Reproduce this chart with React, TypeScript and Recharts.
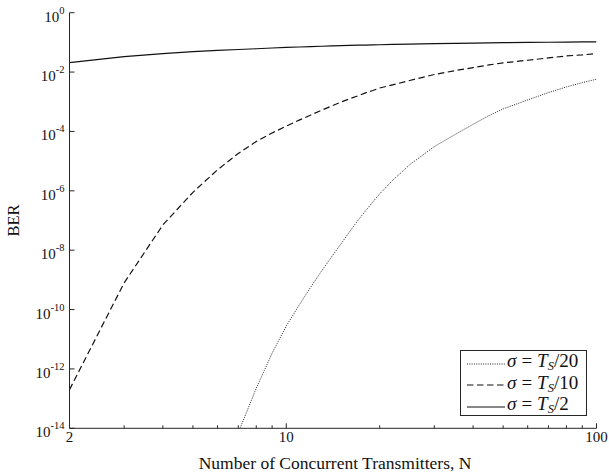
import React from 'react';
import { LineChart, Line, XAxis, YAxis, Legend } from 'recharts';

const transmitters = [2, 3, 4, 5, 6, 7, 8, 9, 10, 11, 12, 13, 14, 15, 16, 17, 18, 19, 20, 22, 25, 30, 35, 40, 45, 50, 60, 70, 80, 90, 100];
const berSigma20 = [null, null, null, null, null, 7.1e-15, 2.24e-13, 3.4e-12, 2.8e-11, 1.41e-10, 5.8e-10, 2.0e-9, 6.0e-9, 1.62e-8, 4.2e-8, 1.0e-7, 2.1e-7, 4.2e-7, 7.9e-7, 2.24e-6, 7.6e-6, 3.1e-5, 7.9e-5, 1.74e-4, 3.4e-4, 5.75e-4, 1.15e-3, 2.04e-3, 3.16e-3, 4.4e-3, 5.75e-3];
const berSigma10 = [2.0e-13, 7.9e-10, 7.1e-8, 8.9e-7, 5.1e-6, 1.82e-5, 4.6e-5, 8.9e-5, 1.51e-4, 2.4e-4, 3.6e-4, 5.2e-4, 7.2e-4, 9.8e-4, 1.26e-3, 1.58e-3, 2.0e-3, 2.4e-3, 2.9e-3, 3.7e-3, 5.2e-3, 8.3e-3, 1.12e-2, 1.41e-2, 1.74e-2, 2.04e-2, 2.5e-2, 3.0e-2, 3.5e-2, 3.8e-2, 4.2e-2];
const berSigma2 = [0.0209, 0.0331, 0.0417, 0.049, 0.0537, 0.0575, 0.061, 0.0646, 0.0676, 0.07, 0.0724, 0.0741, 0.0759, 0.0776, 0.0794, 0.0804, 0.0813, 0.0822, 0.0832, 0.0851, 0.0871, 0.0902, 0.0923, 0.0944, 0.0962, 0.0977, 0.1, 0.1012, 0.1023, 0.1035, 0.1047];

const xTicks = [2, 3, 4, 5, 6, 7, 8, 9, 10, 20, 30, 40, 50, 60, 70, 80, 90, 100];
const xMajorTicks = [2, 10, 100];
const yTicks = [1e-14, 1e-12, 1e-10, 1e-8, 1e-6, 1e-4, 1e-2, 1];

const xLabel = 'Number of Concurrent Transmitters, N';
const yLabel = 'BER';

const series = [
  { key: 's20', divisor: 20, values: berSigma20, dash: '1 1.3', width: 1, color: '#222' },
  { key: 's10', divisor: 10, values: berSigma10, dash: '6.5 3.5', width: 1.2, color: '#111' },
  { key: 's2', divisor: 2, values: berSigma2, dash: undefined, width: 1.2, color: '#111' },
];

const data = transmitters.map((n, i) => {
  const row: any = { n };
  series.forEach((s) => {
    row[s.key] = s.values[i];
  });
  return row;
});

const FONT = '"Liberation Serif", "Times New Roman", serif';
const AXIS = '#262626';

const XTick = (props: any) => {
  const { x, y, payload, side } = props;
  const v = payload.value;
  const major = xMajorTicks.includes(v);
  const len = major ? 5 : 3;
  const dir = side === 'top' ? 1 : -1;
  return (
    <g>
      <line x1={x} x2={x} y1={y} y2={y + dir * len} stroke={AXIS} strokeWidth={1} />
      {side === 'bottom' && major && (
        <text x={x} y={y + 14} textAnchor="middle" fontFamily={FONT} fontSize={15} fill="#111">
          {String(v)}
        </text>
      )}
    </g>
  );
};

const YTick = (props: any) => {
  const { x, y, payload, side } = props;
  const exp = Math.round(Math.log10(payload.value));
  const dir = side === 'left' ? 1 : -1;
  return (
    <g>
      <line x1={x} x2={x + dir * 5} y1={y} y2={y} stroke={AXIS} strokeWidth={1} />
      {side === 'left' && (
        <text x={x - 5} y={y + 9} textAnchor="end" fontFamily={FONT} fontSize={15} fill="#111">
          <tspan>10</tspan>
          <tspan dy={-8} fontSize={10.5}>{String(exp)}</tspan>
        </text>
      )}
    </g>
  );
};

const LegendBox = (props: any) => {
  const payload = [...(props.payload || [])].sort(
    (a: any, b: any) =>
      series.findIndex((q) => q.key === a.dataKey) - series.findIndex((q) => q.key === b.dataKey)
  );
  return (
    <div
      style={{
        border: `1px solid ${AXIS}`,
        background: '#fff',
        boxSizing: 'border-box',
        height: 66,
        width: 127,
        paddingTop: 2,
        paddingLeft: 5.5,
        fontFamily: FONT,
        fontSize: 19,
        color: '#111',
      }}
    >
      {payload.map((entry: any) => {
        const s = series.find((q) => q.key === entry.dataKey) || series[0];
        return (
          <div key={s.key} style={{ display: 'flex', alignItems: 'center', height: 21.5, whiteSpace: 'nowrap' }}>
            <svg width={38} height={10} style={{ display: 'block', flex: 'none' }}>
              <line x1={0} x2={38} y1={5} y2={5} stroke={s.color} strokeWidth={s.width} strokeDasharray={s.dash} />
            </svg>
            <span style={{ marginLeft: 2.5, lineHeight: '21.5px' }}>
              <i>σ</i>
              <span style={{ margin: '0 5px' }}>=</span>
              <i>T</i>
              <sub style={{ fontSize: 12.5, verticalAlign: '-3px' }}>
                <i>S</i>
              </sub>
              /{s.divisor}
            </span>
          </div>
        );
      })}
    </div>
  );
};

export default function App() {
  return (
    <div style={{ position: 'absolute', left: 0, top: 0, width: 609, height: 473 }}>
      <LineChart
        width={609}
        height={473}
        data={data}
        margin={{ top: 12.7, right: 12.5, left: 0, bottom: 0 }}
        style={{ fontFamily: FONT }}
      >
        <XAxis
          dataKey="n"
          type="number"
          scale="log"
          domain={[2, 100]}
          ticks={xTicks}
          interval={0}
          allowDataOverflow
          height={44.7}
          tickSize={0}
          tickMargin={0}
          axisLine={{ stroke: AXIS, strokeWidth: 1 }}
          tickLine={false}
          tick={(p: any) => <XTick {...p} side="bottom" />}
          label={(p: any) => {
            const vb = p.viewBox || {};
            return (
              <text x={vb.x + vb.width / 2 + 2} y={vb.y + 41} textAnchor="middle" fontFamily={FONT} fontSize={17.5} fill="#111">
                {xLabel}
              </text>
            );
          }}
        />
        <XAxis
          xAxisId="top"
          dataKey="n"
          type="number"
          scale="log"
          orientation="top"
          domain={[2, 100]}
          ticks={xTicks}
          interval={0}
          allowDataOverflow
          height={0}
          tickSize={0}
          tickMargin={0}
          axisLine={{ stroke: AXIS, strokeWidth: 1 }}
          tickLine={false}
          tick={(p: any) => <XTick {...p} side="top" />}
        />
        <YAxis
          type="number"
          scale="log"
          domain={[1e-14, 1]}
          ticks={yTicks}
          interval={0}
          allowDataOverflow
          width={69.5}
          tickSize={0}
          tickMargin={0}
          axisLine={{ stroke: AXIS, strokeWidth: 1 }}
          tickLine={false}
          tick={(p: any) => <YTick {...p} side="left" />}
          label={(p: any) => {
            const vb = p.viewBox || {};
            const cx = 19;
            const cy = vb.y + vb.height / 2;
            return (
              <text x={cx} y={cy} textAnchor="middle" transform={`rotate(-90 ${cx} ${cy})`} fontFamily={FONT} fontSize={16.5} fill="#111">
                {yLabel}
              </text>
            );
          }}
        />
        <YAxis
          yAxisId="right"
          orientation="right"
          type="number"
          scale="log"
          domain={[1e-14, 1]}
          ticks={yTicks}
          interval={0}
          allowDataOverflow
          width={0}
          tickSize={0}
          tickMargin={0}
          axisLine={{ stroke: AXIS, strokeWidth: 1 }}
          tickLine={false}
          tick={(p: any) => <YTick {...p} side="right" />}
        />
        {series.map((s) => (
          <Line
            key={s.key}
            dataKey={s.key}
            name={`σ = T_S/${s.divisor}`}
            type="linear"
            stroke={s.color}
            strokeWidth={s.width}
            strokeDasharray={s.dash}
            dot={false}
            activeDot={false}
            isAnimationActive={false}
            connectNulls={false}
          />
        ))}
        <Legend
          layout="vertical"
          align="center"
          verticalAlign="middle"
          wrapperStyle={{ left: 460, top: 350, width: 127 }}
          content={(p: any) => <LegendBox {...p} />}
        />
      </LineChart>
    </div>
  );
}
